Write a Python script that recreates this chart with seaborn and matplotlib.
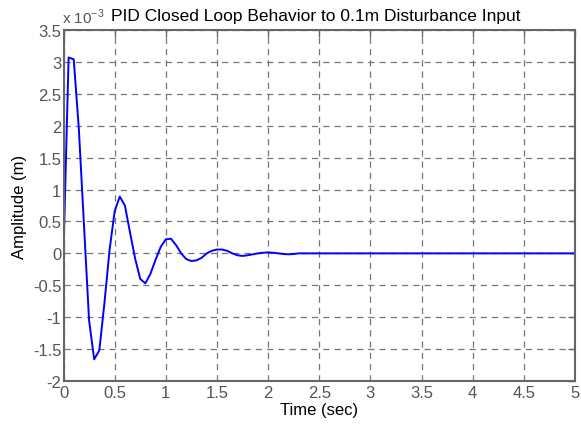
import numpy as np
import pandas as pd
import matplotlib
matplotlib.use("Agg")
import matplotlib.pyplot as plt
import seaborn as sns

time_s = [0.00, 0.05, 0.10, 0.15, 0.20, 0.25, 0.30, 0.35, 0.40, 0.45,
          0.50, 0.55, 0.60, 0.65, 0.70, 0.75, 0.80, 0.85, 0.90, 0.95,
          1.00, 1.05, 1.10, 1.15, 1.20, 1.25, 1.30, 1.35, 1.40, 1.45,
          1.50, 1.55, 1.60, 1.65, 1.70, 1.75, 1.80, 1.85, 1.90, 1.95,
          2.00, 2.05, 2.10, 2.15, 2.20, 2.25, 2.30, 2.35, 2.40, 5.00]
amplitude_e3 = [0.00, 3.07, 3.04, 1.95, 0.45, -1.05, -1.66, -1.52, -0.78, 0.05,
                0.66, 0.89, 0.75, 0.33, -0.08, -0.40, -0.47, -0.32, -0.10, 0.10,
                0.22, 0.23, 0.13, 0.00, -0.09, -0.12, -0.11, -0.07, 0.00, 0.04,
                0.06, 0.06, 0.04, 0.00, -0.03, -0.04, -0.03, -0.015, 0.00, 0.01,
                0.015, 0.01, 0.00, -0.01, -0.015, -0.01, 0.00, 0.00, 0.00, 0.00]

x_ticks = [0, 0.5, 1, 1.5, 2, 2.5, 3, 3.5, 4, 4.5, 5]
x_labels = ["0", "0.5", "1", "1.5", "2", "2.5", "3", "3.5", "4", "4.5", "5"]
y_ticks = [-2, -1.5, -1, -0.5, 0, 0.5, 1, 1.5, 2, 2.5, 3, 3.5]
y_labels = ["-2", "-1.5", "-1", "-0.5", "0", "0.5", "1", "1.5", "2", "2.5", "3", "3.5"]

title = "PID Closed Loop Behavior to 0.1m Disturbance Input"
xlabel = "Time (sec)"
ylabel = "Amplitude (m)"

df = pd.DataFrame({"t": time_s, "y": amplitude_e3})

sns.set_style("white")
plt.rcParams["font.family"] = ["Liberation Sans", "DejaVu Sans"]
plt.rcParams["mathtext.fontset"] = "custom"
plt.rcParams["mathtext.rm"] = "Liberation Sans"

fig = plt.figure(figsize=(5.81, 4.31), dpi=100)
ax = fig.add_axes([63.5 / 581, 1 - 382 / 431, (575 - 63.5) / 581, (382 - 31) / 431])

sns.lineplot(data=df, x="t", y="y", ax=ax, color=(0, 0, 1), linewidth=1.4, estimator=None, sort=False)

ax.set_xlim(0, 5)
ax.set_ylim(-2, 3.5)
ax.set_xticks(x_ticks)
ax.set_xticklabels(x_labels)
ax.set_yticks(y_ticks)
ax.set_yticklabels(y_labels)

tick_col = "#555555"
ax.tick_params(axis="both", direction="in", length=5, width=1, colors="#666666",
               labelcolor=tick_col, labelsize=12, top=True, right=True)
ax.tick_params(axis="x", pad=3)
ax.tick_params(axis="y", pad=1.5)
for s in ax.spines.values():
    s.set_color("#666666")
    s.set_linewidth(1.5)
    s.set_visible(True)

ax.grid(True, color="#777777", linestyle=(0, (5, 4)), linewidth=0.9)

ax.set_xlabel(xlabel, fontsize=12, color="#000000", labelpad=1)
ax.set_ylabel(ylabel, fontsize=12, color="#000000", labelpad=4)
ax.set_title(title, fontsize=12.5, color="#000000", pad=7, x=0.494)

ax.text(-0.003, 1.012, r"x 10$^{-3}$", transform=ax.transAxes, fontsize=11,
        color=tick_col, ha="left", va="bottom")

fig.savefig("out.png", dpi=100)
